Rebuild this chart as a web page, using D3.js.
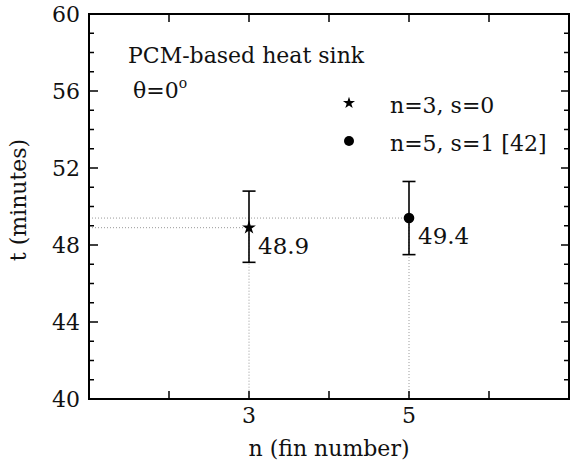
<!DOCTYPE html>
<html>
<head>
<meta charset="utf-8">
<script src="https://cdn.jsdelivr.net/npm/d3@7"></script>
<style>
  body { margin: 0; background: #fff; }
</style>
</head>
<body>
<div id="chart"></div>
<script>
// data
var finNumbers = [3, 5];
var times = [48.9, 49.4];
var errLow = [47.1, 47.5];
var errHigh = [50.8, 51.3];
var seriesNames = ["n=3, s=0", "n=5, s=1 [42]"];
var seriesShapes = ["star", "circle"];
var yTickValues = [40, 44, 48, 52, 56, 60];
var xTickValues = [3, 5];

function init() {
  var w = 572, h = 463;
  var plotL = 89, plotR = 569, plotT = 14, plotB = 399;
  var serif = "DejaVu Serif";

  var svg = d3.select("#chart").append("svg")
    .attr("width", w).attr("height", h)
    .attr("font-family", serif);

  var xScale = d3.scaleLinear().domain([1, 7]).range([plotL, plotR]);
  var yScale = d3.scaleLinear().domain([40, 60]).range([plotB, plotT]);

  function label(x, y, str, size, anchor) {
    return svg.append("text")
      .attr("x", x).attr("y", y)
      .attr("font-family", serif)
      .attr("font-size", size)
      .attr("fill", "#111")
      .attr("text-anchor", anchor || "start")
      .text(str);
  }

  // dotted guide lines
  var guides = svg.append("g")
    .attr("stroke", "#999").attr("stroke-width", 1)
    .attr("stroke-dasharray", "1,2").attr("fill", "none");
  finNumbers.forEach(function(n, i) {
    guides.append("line")
      .attr("x1", plotL).attr("x2", xScale(n))
      .attr("y1", yScale(times[i])).attr("y2", yScale(times[i]));
    guides.append("line")
      .attr("x1", xScale(n)).attr("x2", xScale(n))
      .attr("y1", yScale(times[i])).attr("y2", plotB);
  });

  // axes, ticks inward
  var yMinor = d3.range(41, 60).filter(function(v) { return v % 4 != 0; });
  var yMajor = yTickValues.slice(1, -1);
  var xTicksAll = [2, 3, 4, 5, 6];

  var ax = svg.append("g").attr("stroke", "#000").attr("stroke-width", 1.5);
  yMajor.forEach(function(v) {
    ax.append("line").attr("x1", plotL).attr("x2", plotL + 9).attr("y1", yScale(v)).attr("y2", yScale(v));
    ax.append("line").attr("x1", plotR).attr("x2", plotR - 8).attr("y1", yScale(v)).attr("y2", yScale(v));
  });
  yMinor.forEach(function(v) {
    ax.append("line").attr("x1", plotL).attr("x2", plotL + 5).attr("y1", yScale(v)).attr("y2", yScale(v));
    ax.append("line").attr("x1", plotR).attr("x2", plotR - 5).attr("y1", yScale(v)).attr("y2", yScale(v));
  });
  xTicksAll.forEach(function(v) {
    ax.append("line").attr("x1", xScale(v)).attr("x2", xScale(v)).attr("y1", plotB).attr("y2", plotB - 8);
    ax.append("line").attr("x1", xScale(v)).attr("x2", xScale(v)).attr("y1", plotT).attr("y2", plotT + 8);
  });
  svg.append("rect")
    .attr("x", plotL).attr("y", plotT)
    .attr("width", plotR - plotL).attr("height", plotB - plotT)
    .attr("fill", "none").attr("stroke", "#000").attr("stroke-width", 2);

  // tick labels
  yTickValues.forEach(function(v) {
    label(80, yScale(v) + 8, v, 22, "end");
  });
  xTickValues.forEach(function(v) {
    label(xScale(v), 423, v, 22, "middle");
  });

  // axis titles
  label(329, 456, "n (fin number)", 22, "middle");
  svg.append("text")
    .attr("transform", "translate(26,200) rotate(-90)")
    .attr("font-family", serif)
    .attr("font-size", 22).attr("text-anchor", "middle")
    .attr("fill", "#111")
    .text("t (minutes)");

  // error bars
  var eb = svg.append("g").attr("stroke", "#000").attr("stroke-width", 1.6);
  finNumbers.forEach(function(n, i) {
    var x = xScale(n);
    eb.append("line").attr("x1", x).attr("x2", x).attr("y1", yScale(errLow[i])).attr("y2", yScale(errHigh[i]));
    eb.append("line").attr("x1", x - 6.5).attr("x2", x + 6.5).attr("y1", yScale(errLow[i])).attr("y2", yScale(errLow[i]));
    eb.append("line").attr("x1", x - 6.5).attr("x2", x + 6.5).attr("y1", yScale(errHigh[i])).attr("y2", yScale(errHigh[i]));
  });

  function marker(shape, x, y, big) {
    if (shape == "circle") {
      svg.append("circle").attr("cx", x).attr("cy", y).attr("r", big ? 5.3 : 5).attr("fill", "#000");
    } else {
      svg.append("path")
        .attr("d", d3.symbol().type(d3.symbolStar).size(big ? 60 : 45)())
        .attr("transform", "translate(" + x + "," + y + ")")
        .attr("fill", "#000");
    }
  }

  // points + value labels
  finNumbers.forEach(function(n, i) {
    marker(seriesShapes[i], xScale(n), yScale(times[i]), true);
    label(xScale(n) + 9, yScale(times[i]) + 26, times[i].toFixed(1), 23, "start");
  });

  // annotation
  label(128, 63, "PCM-based heat sink", 22, "start");
  var th = svg.append("text")
    .attr("x", 133).attr("y", 98)
    .attr("font-family", serif)
    .attr("font-size", 22)
    .attr("fill", "#111");
  th.append("tspan").text("\u03b8=0");
  th.append("tspan").attr("font-size", 14).attr("dy", -10).text("o");

  // legend
  seriesNames.forEach(function(s, i) {
    var y = 103 + i * 38;
    marker(seriesShapes[i], 349, y, false);
    label(390, y + 10, s, 22, "start");
  });
}

window.onload = init;
</script>
</body>
</html>
